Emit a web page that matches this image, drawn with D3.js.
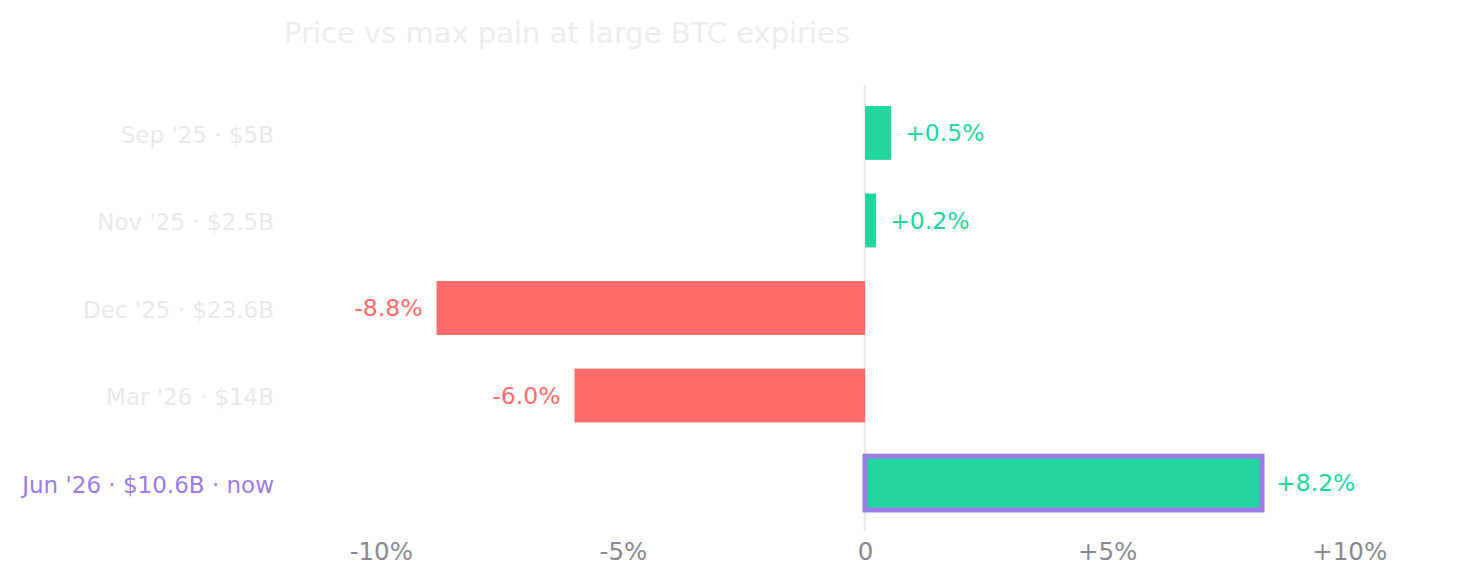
<!DOCTYPE html>
<html>
<head>
<meta charset="utf-8">
<script src="https://cdn.jsdelivr.net/npm/d3@7"></script>
<style>
  body { margin: 0; background: #fff; font-family: "DejaVu Sans", sans-serif; }
  .tick text { font-family: "DejaVu Sans", sans-serif; }
</style>
</head>
<body>
<div class="chart"></div>
<script>
const expiries = ["Sep '25 · $5B", "Nov '25 · $2.5B", "Dec '25 · $23.6B", "Mar '26 · $14B", "Jun '26 · $10.6B · now"];
const gaps = [0.54, 0.23, -8.85, -6.0, 8.2];
const current = ["no", "no", "no", "no", "yes"];
const xTicks = [-10, -5, 0, 5, 10];
const xTickLabels = ["-10%", "-5%", "0", "+5%", "+10%"];

const W = 1466, H = 585;
const margin = {top: 85, left: 284, bottom: 54, right: 20};

const svg = d3.select('.chart')
    .append('svg')
    .attr('width', W)
    .attr('height', H);

const x = d3.scaleLinear()
    .domain([-12, 12])
    .range([margin.left, W - margin.right]);

const y = d3.scaleBand()
    .domain(expiries)
    .range([margin.top, H - margin.bottom])
    .paddingInner(0.385)
    .paddingOuter(0.24);

const green = '#23d69d', red = '#ff6b6b', purple = '#9b7be6';

svg.append('text')
    .attr('x', margin.left)
    .attr('y', 43)
    .attr('fill', '#ececec')
    .attr('font-size', 29)
    .text('Price vs max pain at large BTC expiries');

// zero line
svg.append('line')
    .attr('x1', x(0)).attr('x2', x(0))
    .attr('y1', margin.top).attr('y2', H - margin.bottom)
    .attr('stroke', '#ebebeb')
    .attr('stroke-width', 2.5);

const rows = expiries.map((e, i) => ({name: e, v: gaps[i], now: current[i] === 'yes'}));

svg.selectAll('.bars')
    .data(rows)
    .enter()
    .append('rect')
    .attr('class', 'bars')
    .attr('x', d => x(Math.min(0, d.v)))
    .attr('width', d => Math.abs(x(d.v) - x(0)))
    .attr('y', d => y(d.name))
    .attr('height', y.bandwidth())
    .attr('fill', d => d.v >= 0 ? green : red)
    .attr('stroke', d => d.now ? purple : 'none')
    .attr('stroke-width', 5);

svg.selectAll('.vlabel')
    .data(rows)
    .enter()
    .append('text')
    .attr('class', 'vlabel')
    .attr('x', d => d.v >= 0 ? x(d.v) + 14 : x(d.v) - 14)
    .attr('y', d => y(d.name) + y.bandwidth() / 2)
    .attr('dy', '0.35em')
    .attr('text-anchor', d => d.v >= 0 ? 'start' : 'end')
    .attr('font-size', 23.5)
    .attr('fill', d => d.v >= 0 ? green : red)
    .text(d => (d.v >= 0 ? '+' : '') + d.v.toFixed(1) + '%');

// category labels
const yAxis = d3.axisLeft(y).tickSize(0).tickPadding(10);
const gy = svg.append('g')
    .attr('class', 'y-axis')
    .attr('transform', `translate(${margin.left},0)`)
    .call(yAxis);
gy.select('.domain').remove();
gy.selectAll('.tick text')
    .attr('font-size', 23)
    .attr('dy', '0.42em')
    .attr('fill', d => d === expiries[current.indexOf('yes')] ? purple : '#e8e8e8');

const xAxis = d3.axisBottom(x)
    .tickValues(xTicks)
    .tickFormat((d, i) => xTickLabels[i])
    .tickSize(0)
    .tickPadding(12);
const gx = svg.append('g')
    .attr('class', 'x-axis')
    .attr('transform', `translate(0,${H - margin.bottom})`)
    .call(xAxis);
gx.select('.domain').remove();
gx.selectAll('.tick text')
    .attr('font-size', 24.5)
    .attr('fill', '#8a8a8e');
</script>
</body>
</html>
